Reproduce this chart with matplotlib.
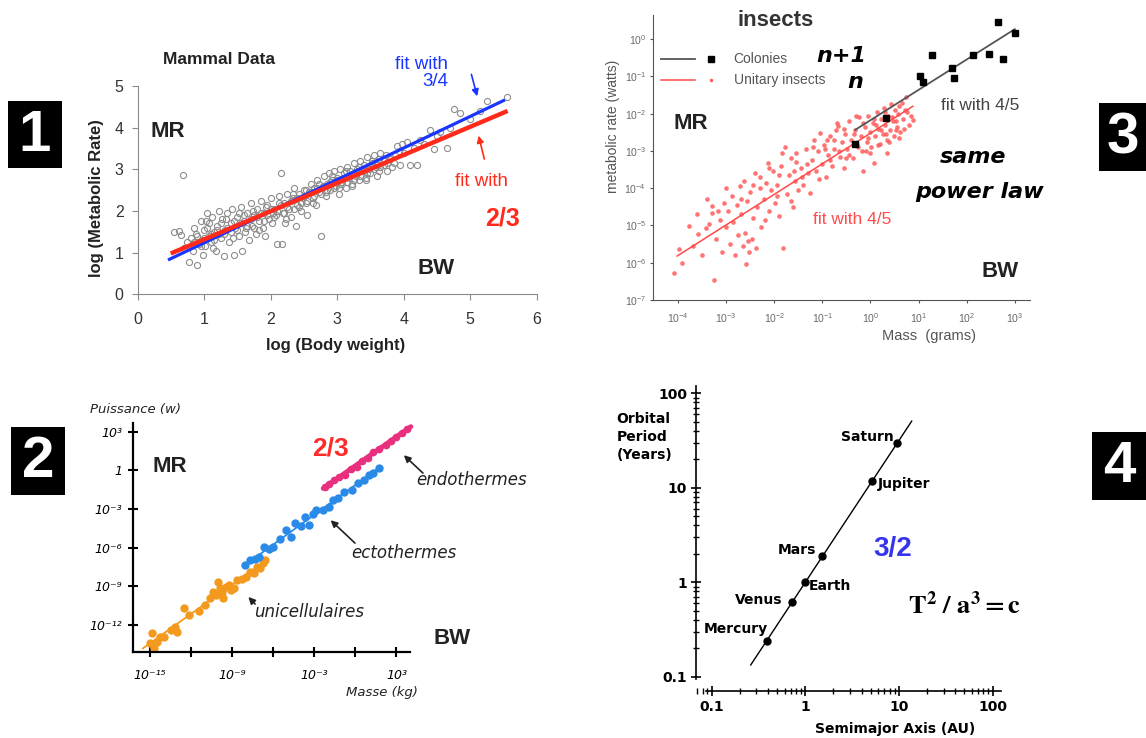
import numpy as np
import matplotlib
matplotlib.use('Agg')
import matplotlib.pyplot as plt
from matplotlib.patches import Rectangle, FancyArrowPatch
from matplotlib.lines import Line2D
from matplotlib.ticker import NullLocator, LogLocator

plt.rcParams['font.family'] = ['Liberation Sans', 'DejaVu Sans']

W, H = 1146, 738

# ---- panel 1 : mammal data (log10 values)
mam_logw = [0.55, 0.62, 0.66, 0.68, 0.70, 0.75, 0.77, 0.80, 0.83, 0.85,
            0.88, 0.90, 0.92, 0.95, 0.97, 0.98, 1.00, 1.02, 1.05, 1.07,
            1.08, 1.10, 1.12, 1.15, 1.18, 1.20, 1.22, 1.25, 1.27, 1.30,
            1.32, 1.35, 1.38, 1.40, 1.42, 1.45, 1.47, 1.50, 1.52, 1.55,
            1.57, 1.60, 1.62, 1.65, 1.68, 1.70, 1.72, 1.75, 1.78, 1.80,
            1.82, 1.85, 1.88, 1.90, 1.92, 1.95, 1.98, 2.00, 2.02, 2.05,
            2.08, 2.10, 2.12, 2.15, 2.17, 2.18, 2.20, 2.22, 2.25, 2.28,
            2.30, 2.33, 2.35, 2.38, 2.40, 2.43, 2.45, 2.48, 2.50, 2.53,
            2.55, 2.58, 2.60, 2.63, 2.65, 2.68, 2.70, 2.73, 2.75, 2.78,
            2.80, 2.83, 2.85, 2.88, 2.90, 2.93, 2.95, 2.98, 3.00, 3.03,
            3.05, 3.08, 3.10, 3.13, 3.15, 3.18, 3.20, 3.23, 3.25, 3.28,
            3.30, 3.33, 3.35, 3.38, 3.40, 3.43, 3.45, 3.48, 3.50, 3.53,
            3.55, 3.58, 3.60, 3.63, 3.65, 3.70, 3.75, 3.80, 3.85, 3.90,
            3.95, 3.98, 4.00, 4.05, 4.10, 4.15, 4.20, 4.25, 4.30, 4.40,
            4.45, 4.50, 4.55, 4.65, 4.70, 4.75, 4.85, 5.00, 5.15, 5.25,
            5.55,
            0.85, 0.90, 0.95, 1.00, 1.05, 1.10, 1.15, 1.20, 1.25, 1.30,
            1.35, 1.40, 1.45, 1.50, 1.55, 1.60, 1.65, 1.70, 1.75, 1.80,
            1.85, 1.90, 1.95, 2.00, 2.05, 2.10, 2.15, 2.20, 2.25, 2.30,
            2.35, 2.40, 2.45, 2.50, 2.55, 2.60, 2.65, 2.70, 2.75, 2.80,
            2.85, 2.90, 2.95, 3.00, 3.05, 3.10, 3.15, 3.20, 3.25, 3.30,
            3.35, 3.40, 3.45, 3.50, 3.55, 3.60, 3.65, 3.70, 3.75, 3.80,
            1.03, 1.13, 1.23, 1.33, 1.43, 1.53, 1.63, 1.73, 1.83, 1.93,
            2.03, 2.13, 2.23, 2.33, 2.43, 2.53, 2.63, 2.73, 2.83, 2.93,
            3.03, 3.13, 3.23, 3.33, 3.43, 3.53, 3.63, 3.73, 3.83, 3.93]
mam_logmr = [1.50, 1.52, 1.43, 2.87, 1.10, 1.25, 0.78, 1.35, 1.05, 1.60,
             1.45, 0.70, 1.20, 1.75, 1.30, 0.95, 1.55, 1.15, 1.95, 1.40,
             1.70, 1.25, 1.85, 1.50, 1.05, 1.65, 2.00, 1.35, 1.80, 0.92,
             1.55, 1.95, 1.25, 1.70, 2.05, 0.95, 1.60, 1.85, 1.40, 2.10,
             1.05, 1.75, 1.50, 1.95, 1.30, 2.20, 1.65, 1.90, 1.45, 2.05,
             1.75, 2.25, 1.60, 1.95, 1.40, 2.15, 1.80, 2.30, 1.70, 2.05,
             1.90, 1.20, 2.35, 2.90, 1.20, 1.95, 2.20, 1.70, 2.40, 2.05,
             1.85, 2.30, 2.55, 1.65, 2.15, 2.40, 2.00, 2.30, 2.50, 2.20,
             1.90, 2.45, 2.65, 2.30, 2.55, 2.15, 2.75, 2.45, 1.40, 2.60,
             2.85, 2.35, 2.65, 2.90, 2.50, 2.75, 2.95, 2.60, 2.80, 2.40,
             3.00, 2.70, 2.90, 2.55, 3.05, 2.80, 2.95, 2.65, 3.15, 2.85,
             3.00, 2.75, 3.20, 2.95, 3.10, 2.80, 3.30, 3.00, 2.90, 3.15,
             3.35, 3.05, 2.85, 3.25, 3.40, 3.10, 2.95, 3.30, 3.15, 3.55,
             3.10, 3.60, 3.40, 3.65, 3.10, 3.50, 3.10, 3.70, 3.60, 3.95,
             3.48, 3.80, 3.90, 3.52, 4.00, 4.45, 4.35, 4.20, 4.40, 4.63,
             4.73,
             1.25, 1.40, 1.15, 1.35, 1.60, 1.45, 1.30, 1.55, 1.70, 1.45,
             1.60, 1.50, 1.75, 1.55, 1.70, 1.90, 1.65, 1.80, 1.60, 1.85,
             1.95, 1.75, 1.90, 2.05, 1.85, 2.00, 2.15, 1.95, 2.10, 2.25,
             2.05, 2.30, 2.20, 2.35, 2.25, 2.45, 2.35, 2.55, 2.40, 2.60,
             2.50, 2.70, 2.55, 2.75, 2.65, 2.80, 2.70, 2.85, 2.75, 2.90,
             2.85, 2.95, 2.90, 3.05, 3.00, 3.10, 3.05, 3.20, 3.15, 3.25,
             1.75, 1.10, 1.45, 1.80, 1.35, 1.95, 1.60, 2.00, 1.55, 2.10,
             1.95, 2.20, 1.80, 2.40, 2.10, 2.50, 2.20, 2.65, 2.45, 2.85,
             2.55, 2.95, 2.60, 3.05, 2.75, 3.20, 2.95, 3.35, 3.05, 3.45]
fit34_x = [0.48, 5.50]
fit34_y = [0.84, 4.65]
fit23_x = [0.53, 5.53]
fit23_y = [1.00, 4.38]

# ---- panel 3 : insects (log10 grams, log10 watts)
ins_x = [-4.08, -3.99, -3.92, -3.78, -3.70, -3.58, -3.50, -3.43, -3.35, -3.29,
         -3.29, -3.26, -3.22, -3.18, -3.12, -3.08, -3.05, -3.00, -2.96, -2.92,
         -2.88, -2.85, -2.82, -2.78, -2.75, -2.72, -2.70, -2.66, -2.62, -2.60,
         -2.59, -2.56, -2.55, -2.52, -2.50, -2.47, -2.44, -2.40, -2.38, -2.35,
         -2.30, -2.27, -2.22, -2.18, -2.14, -2.10, -2.06, -2.02, -1.98, -1.94,
         -1.90, -1.86, -1.81, -1.77, -1.74, -1.70, -1.66, -1.62, -1.58, -1.54,
         -1.50, -1.45, -1.40, -1.35, -1.30, -1.26, -1.22, -1.18, -1.14, -1.10,
         -1.04, -1.00, -0.96, -0.92, -0.88, -0.84, -0.80, -0.76, -0.72, -0.67,
         -0.64, -0.60, -0.56, -0.52, -0.48, -0.44, -0.40, -0.36, -0.32, -0.28,
         -0.24, -0.20, -0.17, -0.15, -0.12, -0.08, -0.05, -0.02, 0.02, 0.05,
         0.07, 0.10, 0.13, 0.16, 0.19, 0.22, 0.25, 0.28, 0.31, 0.34,
         0.37, 0.40, 0.43, 0.46, 0.49, 0.51, 0.55, 0.58, 0.62, 0.65,
         0.68, 0.73, 0.76, 0.80, 0.88,
         -0.95, -0.85, -0.75, -0.65, -0.55, -0.45, -0.35, -0.25, -0.15, -0.05,
         0.00, 0.08, 0.15, 0.22, 0.30, 0.38, 0.45, 0.52, 0.60, 0.70,
         -0.90, -0.70, -0.50, -0.30, -0.10, 0.12, 0.32, 0.52, 0.72, 0.84,
         -2.30, -2.10, -1.95, -1.85, -1.65, -1.55, -1.42, -1.32, -1.20, -1.08,
         -3.00, -2.70, -2.45, -3.40, -3.60, -2.20, -1.90, -1.60, 0.35, 0.60]
ins_y = [-6.27, -5.64, -6.00, -5.02, -5.55, -5.24, -5.80, -5.06, -4.95, -4.48,
         -4.66, -6.46, -5.35, -4.60, -4.85, -5.70, -4.40, -5.05, -4.62, -5.50,
         -4.20, -4.90, -5.80, -4.45, -5.25, -3.95, -4.70, -5.55, -3.81, -5.20,
         -6.04, -4.35, -5.42, -5.70, -4.10, -5.35, -4.80, -3.59, -5.60, -4.50,
         -4.00, -5.05, -4.30, -3.85, -3.32, -4.60, -4.05, -3.55, -4.40, -3.90,
         -4.75, -3.40, -5.60, -2.88, -4.15, -3.65, -3.20, -4.50, -3.80, -3.05,
         -4.05, -3.45, -3.90, -2.95, -3.60, -4.13, -3.25, -2.70, -3.55, -3.00,
         -2.52, -3.35, -2.85, -3.70, -3.10, -2.60, -3.40, -2.95, -2.45, -2.34,
         -3.15, -2.75, -3.45, -2.55, -2.95, -2.20, -2.70, -3.20, -2.45, -2.85,
         -2.10, -2.60, -3.00, -3.54, -2.35, -2.75, -2.05, -2.50, -2.90, -2.25,
         -3.32, -2.60, -1.95, -2.40, -2.80, -2.15, -2.55, -1.85, -2.30, -2.70,
         -2.05, -2.45, -1.75, -2.20, -2.60, -1.89, -2.35, -2.00, -2.50, -1.70,
         -2.15, -1.54, -1.95, -2.30, -2.16,
         -2.95, -3.25, -2.70, -3.00, -2.40, -3.10, -2.55, -2.90, -2.25, -2.65,
         -3.05, -2.15, -2.85, -2.45, -1.95, -2.75, -2.10, -2.45, -1.80, -2.40,
         -2.70, -2.25, -3.20, -2.05, -3.00, -2.30, -2.55, -2.20, -1.90, -2.05,
         -3.70, -3.45, -4.20, -3.05, -4.35, -3.30, -3.70, -3.35, -2.90, -3.75,
         -4.00, -4.30, -3.90, -4.30, -4.70, -4.85, -3.65, -3.55, -3.05, -2.65]
col_x = [-0.315, 0.325, 1.02, 1.10, 1.28, 1.69, 1.73, 2.13, 2.46, 2.65, 2.76, 3.00]
col_y = [-2.80, -2.12, -0.98, -1.14, -0.42, -0.78, -1.04, -0.42, -0.39, 0.47, -0.54, 0.18]
col_fit_x = [-0.315, 3.00]
col_fit_y = [-2.43, 0.27]
ins_fit_x = [-4.02, 0.88]
ins_fit_y = [-5.82, -1.80]

# ---- panel 2 : unicellulaires / ectothermes / endothermes (log10 kg, log10 W)
uni_x = [-15.0, -14.87, -14.74, -14.48, -14.3, -13.96, -13.5, -13.17, -13.04, -12.52,
         -12.13, -11.4, -10.96, -10.6, -10.43, -10.2, -10.04, -9.91, -9.75, -9.65,
         -9.45, -9.26, -9.1, -8.87, -8.61, -8.3, -7.96, -7.70, -7.4, -7.17,
         -6.95, -6.78, -6.6]
uni_y = [-13.42, -12.59, -13.81, -13.29, -12.95, -12.9, -12.4, -12.13, -12.52, -10.71,
         -11.22, -10.9, -10.45, -9.9, -9.41, -9.7, -8.64, -9.15, -9.45, -9.93,
         -9.05, -8.9, -9.3, -9.15, -8.51, -8.4, -8.25, -7.86, -7.95, -7.47,
         -7.6, -7.21, -6.96]
ecto_x = [-8.09, -7.7, -7.3, -7.04, -6.65, -6.3, -6.0, -5.5, -5.09, -4.70,
          -4.43, -4.0, -3.65, -3.39, -3.1, -2.87, -2.4, -1.96, -1.6, -1.30,
          -0.8, -0.26, 0.2, 0.65, 1.0, 1.30, 1.70]
ecto_y = [-7.34, -6.96, -6.85, -6.70, -5.92, -6.1, -5.92, -5.3, -4.63, -5.15,
          -4.11, -4.3, -3.59, -4.24, -3.4, -3.08, -3.05, -2.82, -2.3, -2.17,
          -1.7, -1.53, -1.0, -0.75, -0.35, -0.23, 0.16]
endo_x = [-2.22, -1.9, -1.57, -1.2, -0.78, -0.3, 0.13, 0.5, 0.91, 1.30,
          1.7, 2.22, 2.6, 3.0, 3.4, 3.78]
endo_y = [-1.30, -1.06, -0.75, -0.54, -0.36, 0.14, 0.28, 0.74, 0.93, 1.45,
          1.64, 1.97, 2.31, 2.61, 2.91, 3.18]
uni_fit_x, uni_fit_y = [-15.52, -6.52], [-13.81, -6.96]
ecto_fit_x, ecto_fit_y = [-8.22, 1.83], [-7.47, 0.28]
endo_fit_x, endo_fit_y = [-2.35, 4.05], [-1.40, 3.39]

# ---- panel 4 : planets
planets = ['Mercury', 'Venus', 'Earth', 'Mars', 'Jupiter', 'Saturn']
a_au = [0.387, 0.723, 1.0, 1.524, 5.203, 9.537]
t_yr = [0.241, 0.615, 1.0, 1.881, 11.86, 29.46]
kepler_a = [0.261, 13.7]
kepler_t = [0.133, 50.7]


def fx(x):
    return x / W


def fy(y):
    return 1 - y / H


def rect(l, t, r, b):
    return [l / W, 1 - b / H, (r - l) / W, (b - t) / H]


fig = plt.figure(figsize=(W / 100, H / 100), dpi=100)


def txt(x, y, s, **kw):
    kw.setdefault('ha', 'center')
    kw.setdefault('va', 'center')
    return fig.text(fx(x), fy(y), s, **kw)


def arrow(x0, y0, x1, y1, color, lw=1.2):
    fig.add_artist(FancyArrowPatch((fx(x0), fy(y0)), (fx(x1), fy(y1)),
                                   transform=fig.transFigure, arrowstyle='-|>',
                                   mutation_scale=10, color=color, lw=lw))


def numbox(l, t, r, b, s):
    fig.add_artist(Rectangle((fx(l), fy(b)), (r - l) / W, (b - t) / H,
                             transform=fig.transFigure, facecolor='black',
                             edgecolor='none'))
    txt((l + r) / 2, (t + b) / 2 + 1, s, color='white', fontsize=42,
        fontweight='bold')


def p10(v):
    return np.power(10.0, np.array(v))


# ================= panel 1
ax1 = fig.add_axes(rect(137.5, 86, 536.8, 294.3))
ax1.plot(mam_logw, mam_logmr, 'o', ms=4.4, mfc='none', mec='#8d8d8d', mew=0.8)
ax1.plot(fit34_x, fit34_y, color='#1a35ff', lw=2.3)
ax1.plot(fit23_x, fit23_y, color='#ff2a1a', lw=3.2)
ax1.set_xlim(0, 6)
ax1.set_ylim(0, 5)
ax1.set_xticks(range(7))
ax1.set_yticks(range(6))
for s in ['top', 'right']:
    ax1.spines[s].set_visible(False)
for s in ['left', 'bottom']:
    ax1.spines[s].set_color('#8a8a8a')
ax1.tick_params(length=4, color='#8a8a8a', labelsize=11.5, labelcolor='#333333')
ax1.tick_params(axis='x', pad=9)
ax1.tick_params(axis='y', pad=6)

txt(218.6, 59.3, 'Mammal Data', fontsize=12.5, fontweight='bold', color='#222222')
txt(96, 198, 'log (Metabolic Rate)', fontsize=12, fontweight='bold', rotation=90,
    color='#222222')
txt(335.7, 345, 'log (Body weight)', fontsize=12, fontweight='bold', color='#222222')
txt(167.9, 131.7, 'MR', fontsize=16, fontweight='bold', color='#222222')
txt(435.7, 268.3, 'BW', fontsize=16, fontweight='bold', color='#222222')
txt(448, 73, 'fit with\n3/4', fontsize=13.5, color='#1a35ff', ha='right',
    multialignment='right', linespacing=1.0)
arrow(470.7, 71.7, 477.9, 99, '#1a35ff')
txt(481.4, 181.7, 'fit with', fontsize=13.5, color='#ff2a1a')
txt(502.9, 218.3, '2/3', fontsize=18, fontweight='bold', color='#ff2a1a')
arrow(485, 161.7, 477.9, 133, '#ff2a1a')

# ================= panel 3
ax3 = fig.add_axes(rect(653.1, 15, 1029.7, 300))
ax3.set_xscale('log')
ax3.set_yscale('log')
ax3.plot(p10(ins_x), p10(ins_y), 'o', ms=3.3, color='#ff5a5a', mec='none', alpha=0.85)
ax3.plot(p10(ins_fit_x), p10(ins_fit_y), color='#ff4a4a', lw=1.1)
ax3.plot(p10(col_fit_x), p10(col_fit_y), color='#555555', lw=1.3)
ax3.plot(p10(col_x), p10(col_y), 's', ms=4.2, color='black')
ax3.set_xlim(10 ** -4.52, 10 ** 3.31)
ax3.set_ylim(1e-7, 10 ** 0.65)
ax3.xaxis.set_major_locator(LogLocator(base=10, numticks=20))
ax3.yaxis.set_major_locator(LogLocator(base=10, numticks=20))
ax3.xaxis.set_minor_locator(NullLocator())
ax3.yaxis.set_minor_locator(NullLocator())
for s in ['top', 'right']:
    ax3.spines[s].set_visible(False)
for s in ['left', 'bottom']:
    ax3.spines[s].set_color('#555555')
ax3.tick_params(length=2, color='#555555', labelsize=7.5, labelcolor='#6a6a6a')
ax3.tick_params(axis='x', pad=6)
ax3.tick_params(axis='y', pad=3)

txt(776, 20, 'insects', fontsize=16, fontweight='bold', color='#333333')
txt(613, 126.7, 'metabolic rate (watts)', fontsize=10, rotation=90, color='#555555')
txt(928.7, 336, 'Mass  (grams)', fontsize=10.5, color='#555555')
fig.add_artist(Line2D([fx(661), fx(695)], [fy(59.3)] * 2, color='#555555', lw=1.3))
fig.add_artist(Line2D([fx(710.6)], [fy(59.3)], marker='s', ms=4.2, color='black'))
fig.add_artist(Line2D([fx(661), fx(695)], [fy(80)] * 2, color='#ff4a4a', lw=1.1))
fig.add_artist(Line2D([fx(710.6)], [fy(80)], marker='o', ms=2.5, color='#ff5a5a',
                      mec='none'))
txt(733.6, 59.3, 'Colonies', fontsize=10, color='#555555', ha='left')
txt(733.6, 80, 'Unitary insects', fontsize=10, color='#555555', ha='left')
hand = dict(family='DejaVu Sans', fontweight='bold', fontstyle='italic', color='black')
txt(841.8, 56, 'n+1', fontsize=16, **hand)
txt(855.2, 81.7, 'n', fontsize=16, **hand)
txt(973, 156.7, 'same', fontsize=16, **hand)
txt(979.4, 191.7, 'power law', fontsize=16, **hand)
txt(691, 123.3, 'MR', fontsize=16, fontweight='bold', color='#222222')
txt(999.6, 271.7, 'BW', fontsize=16, fontweight='bold', color='#222222')
txt(980, 106, 'fit with 4/5', fontsize=12.5, color='#444444')
txt(852.4, 220, 'fit with 4/5', fontsize=12.5, color='#ff4d4d')

# ================= panel 2
ax2 = fig.add_axes(rect(132.9, 423.3, 410, 651.7))
ax2.set_xscale('log')
ax2.set_yscale('log')
ax2.plot(p10(uni_fit_x), p10(uni_fit_y), color='#f39a1e', lw=1.3)
ax2.plot(p10(ecto_fit_x), p10(ecto_fit_y), color='#2a8ae8', lw=1.3)
ax2.plot(p10(endo_fit_x), p10(endo_fit_y), color='#e8307e', lw=3.5, clip_on=False,
         solid_capstyle='round')
ax2.plot(p10(uni_x), p10(uni_y), 'o', ms=5, color='#f39a1e')
ax2.plot(p10(ecto_x), p10(ecto_y), 'o', ms=5, color='#2a8ae8')
ax2.plot(p10(endo_x), p10(endo_y), 'o', ms=4.5, color='#e8307e', clip_on=False)
ax2.set_xlim(10 ** -16.25, 10 ** 3.99)
ax2.set_ylim(10 ** -14.07, 10 ** 3.65)
xt = [-15, -12, -9, -6, -3, 0, 3]
xt_lab = ['10⁻¹⁵', '', '10⁻⁹', '', '10⁻³', '', '10³']
yt = [3, 0, -3, -6, -9, -12]
yt_lab = ['10³', '1', '10⁻³', '10⁻⁶', '10⁻⁹', '10⁻¹²']
ax2.set_xticks(p10(xt), xt_lab, fontstyle='italic', family='DejaVu Sans')
ax2.set_yticks(p10(yt), yt_lab, fontstyle='italic', family='DejaVu Sans')
ax2.xaxis.set_minor_locator(NullLocator())
ax2.yaxis.set_minor_locator(NullLocator())
for s in ['top', 'right']:
    ax2.spines[s].set_visible(False)
for s in ['left', 'bottom']:
    ax2.spines[s].set_linewidth(1.6)
ax2.tick_params(direction='inout', length=7, width=1.5, labelsize=9)
ax2.tick_params(axis='x', pad=9)
ax2.tick_params(axis='y', pad=4)

ital = dict(family='DejaVu Sans', fontstyle='italic', color='#222222')
txt(135.7, 410, 'Puissance (w)', fontsize=9.5, **ital)
txt(382, 692.7, 'Masse (kg)', fontsize=9.5, **ital)
txt(471.4, 480, 'endothermes', fontsize=12, **ital)
txt(403.6, 553.3, 'ectothermes', fontsize=12, **ital)
txt(309, 611.7, 'unicellulaires', fontsize=12, **ital)
arrow(425, 475, 401.8, 453.3, '#222222')
arrow(357, 545, 328.6, 518.3, '#222222')
arrow(257, 606, 246.4, 595, '#222222')
txt(169.6, 466.7, 'MR', fontsize=16, fontweight='bold', color='#222222')
txt(451.8, 638.3, 'BW', fontsize=16, fontweight='bold', color='#222222')
txt(330.4, 448.3, '2/3', fontsize=19, fontweight='bold', color='#ff2a2a')

# ================= panel 4
ax4 = fig.add_axes(rect(696, 386, 1001.3, 679.3))
ax4.set_xscale('log')
ax4.set_yscale('log')
ax4.plot(kepler_a, kepler_t, color='black', lw=1)
ax4.plot(a_au, t_yr, 'o', ms=5, color='black')
ax4.set_xlim(10 ** -1.168, 10 ** 2.094)
ax4.set_ylim(10 ** -1.028, 10 ** 2.077)
for s in ['top', 'right']:
    ax4.spines[s].set_visible(False)
ax4.spines['bottom'].set_position(('outward', 8.4))
ax4.spines['bottom'].set_bounds(10 ** -1.057, 10 ** 2.094)
ax4.spines['left'].set_linewidth(1.2)
ax4.spines['bottom'].set_linewidth(1.2)
ax4.set_xticks([0.1, 1, 10, 100], ['0.1', '1', '10', '100'], fontweight='bold',
               family='DejaVu Sans')
ax4.set_yticks([0.1, 1, 10, 100], ['0.1', '1', '10', '100'], fontweight='bold',
               family='DejaVu Sans')
ax4.tick_params(which='major', direction='inout', length=7, width=1.2, labelsize=10,
                pad=3)
ax4.tick_params(which='minor', direction='inout', length=5, width=1)
ax4.xaxis.set_minor_formatter(plt.NullFormatter())
ax4.yaxis.set_minor_formatter(plt.NullFormatter())

bold = dict(family='DejaVu Sans', fontweight='bold', fontsize=10, color='black')
label_pos = {'Mercury': (735.4, 629.3), 'Venus': (758.8, 600), 'Earth': (829.6, 586),
             'Mars': (797, 550), 'Jupiter': (903.6, 484.3), 'Saturn': (867, 436.7)}
for p in planets:
    txt(label_pos[p][0], label_pos[p][1], p, **bold)
txt(616.4, 436.7, 'Orbital\nPeriod\n(Years)', ha='left', linespacing=1.35, **bold)
txt(894.8, 729.3, 'Semimajor Axis (AU)', **bold)
txt(893, 549, '3/2', fontsize=20, fontweight='bold', color='#3535ee')
txt(964.6, 605, r'$\mathbf{T^2\ /\ a^3 = c}$', fontsize=19, math_fontfamily='stix',
    color='black')

# ================= number boxes
numbox(7.9, 101, 61.8, 168.3, '1')
numbox(11.4, 427.3, 65, 495, '2')
numbox(1098.9, 103.3, 1146, 170.7, '3')
numbox(1092, 431.7, 1146, 500, '4')

fig.savefig('out.png', dpi=100)
